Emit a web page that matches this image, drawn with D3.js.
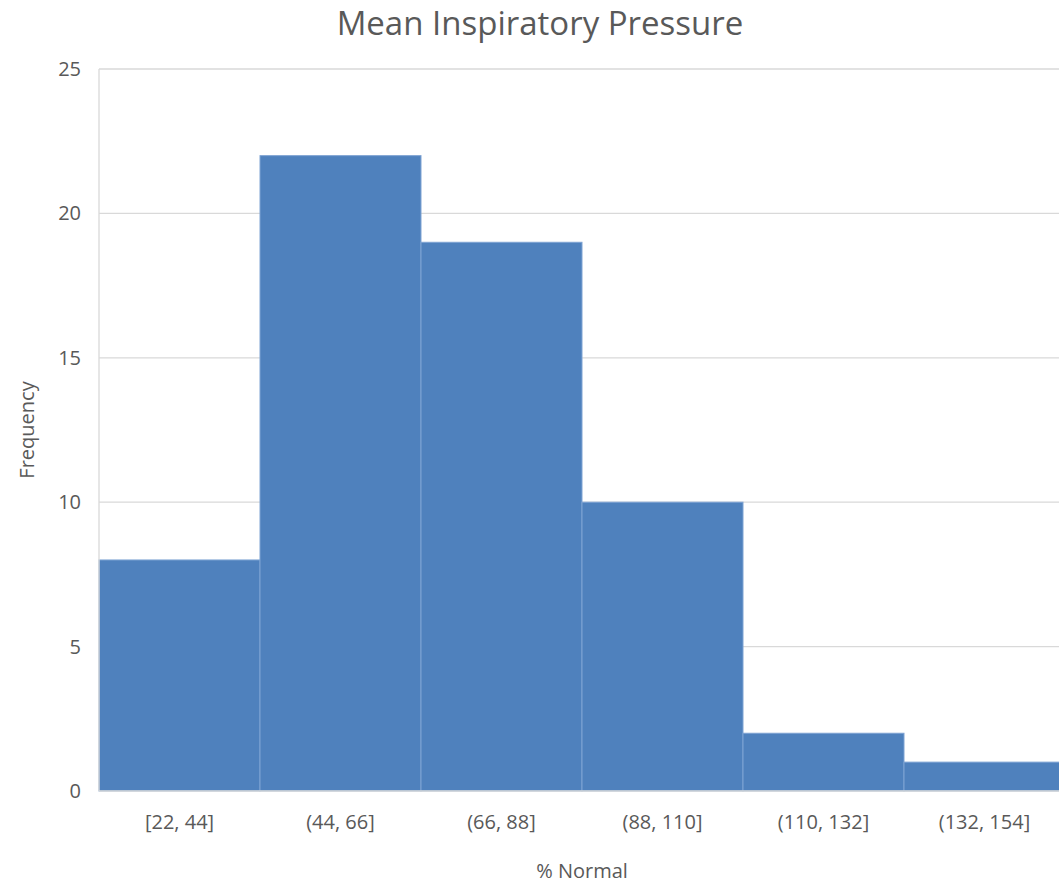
<!DOCTYPE html>
<html><head><meta charset="utf-8">
<script src="https://cdn.jsdelivr.net/npm/d3@7"></script>
<style>body{margin:0;background:#fff;} svg{display:block;font-family:"Open Sans","Noto Sans",sans-serif;}</style>
</head><body>
<svg id="c" width="1059" height="885"></svg>
<script>
const categories = ["[22, 44]", "(44, 66]", "(66, 88]", "(88, 110]", "(110, 132]", "(132, 154]"];
const frequencies = [8, 22, 19, 10, 2, 1];
const yTicks = [0, 5, 10, 15, 20, 25];

const svg = d3.select("#c");
const L = 99, R = 1065, T = 69, B = 791;
const x = d3.scaleBand().domain(categories).range([L, R]).padding(0);
const y = d3.scaleLinear().domain([0, 25]).range([B, T]);

// gridlines
svg.append("g").selectAll("line").data(yTicks.filter(d => d > 0)).join("line")
  .attr("x1", L).attr("x2", R).attr("y1", d => y(d)).attr("y2", d => y(d))
  .attr("stroke", "#d9d9d9").attr("stroke-width", 1.3);

// bars
svg.append("g").selectAll("rect").data(categories).join("rect")
  .attr("x", d => x(d)).attr("width", x.bandwidth())
  .attr("y", (d, i) => y(frequencies[i])).attr("height", (d, i) => B - y(frequencies[i]))
  .attr("fill", "#4f81bd").attr("stroke", "#7ea3d3").attr("stroke-width", 1);

// axis lines
svg.append("line").attr("x1", L).attr("x2", L).attr("y1", T).attr("y2", B).attr("stroke", "#d9d9d9").attr("stroke-width", 1.3);
svg.append("line").attr("x1", L).attr("x2", R).attr("y1", B).attr("y2", B).attr("stroke", "#d9d9d9").attr("stroke-width", 1.3);

// y axis labels
const ya = svg.append("g").attr("transform", `translate(${L - 18},0)`)
  .call(d3.axisLeft(y).tickValues(yTicks).tickSize(0).tickPadding(0));
ya.select(".domain").remove();
ya.selectAll("text").attr("font-size", 20).attr("fill", "#595959").attr("font-family", "Open Sans");

// x axis labels
const xa = svg.append("g").attr("transform", `translate(0,${B + 24})`)
  .call(d3.axisBottom(x).tickSize(0).tickPadding(0));
xa.select(".domain").remove();
xa.selectAll("text").attr("font-size", 20).attr("fill", "#595959").attr("font-family", "Open Sans");

// titles
svg.append("text").attr("x", 540).attr("y", 35).attr("text-anchor", "middle")
  .attr("font-size", 33).attr("fill", "#595959").text("Mean Inspiratory Pressure");
svg.append("text").attr("x", 582).attr("y", 878).attr("text-anchor", "middle")
  .attr("font-size", 20).attr("fill", "#595959").text("% Normal");
svg.append("text").attr("transform", `translate(34,430) rotate(-90)`).attr("text-anchor", "middle")
  .attr("font-size", 20).attr("fill", "#595959").text("Frequency");
</script>
</body></html>
